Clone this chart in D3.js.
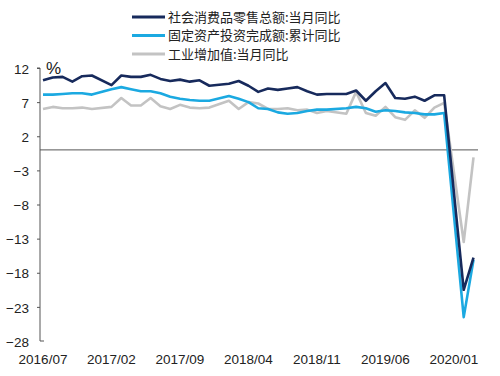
<!DOCTYPE html>
<html>
<head>
<meta charset="utf-8">
<script src="https://cdn.jsdelivr.net/npm/d3@7/dist/d3.min.js"></script>
<style>
  body { margin: 0; background: #fff; }
  svg { display: block; font-family: "Liberation Sans", Arial, "Noto Sans CJK SC", sans-serif; }
</style>
</head>
<body>
<div id="chart"></div>
<script>
// 月份：2016/07 – 2020/03，1 月无单独数据（与 2 月合并），用 null
const months = [];
for (let y = 2016, m = 7; y < 2020 || m <= 3; ) {
  months.push(`${y}/${String(m).padStart(2, '0')}`);
  m++; if (m > 12) { m = 1; y++; }
}

// 社会消费品零售总额:当月同比
const retail = [
  10.2, 10.6, 10.7, 10.0, 10.8, 10.9,
  null, 9.5, 10.9, 10.7, 10.7, 11.0, 10.4, 10.1, 10.3, 10.0, 10.2, 9.4,
  null, 9.7, 10.1, 9.4, 8.5, 9.0, 8.8, 9.0, 9.2, 8.6, 8.1, 8.2,
  null, 8.2, 8.7, 7.2, 8.6, 9.8, 7.6, 7.5, 7.8, 7.2, 8.0, 8.0,
  null, -20.5, -15.8
];
// 固定资产投资完成额:累计同比
const fai = [
  8.1, 8.1, 8.2, 8.3, 8.3, 8.1,
  null, 8.9, 9.2, 8.9, 8.6, 8.6, 8.3, 7.8, 7.5, 7.3, 7.2, 7.2,
  null, 7.9, 7.5, 7.0, 6.1, 6.0, 5.5, 5.3, 5.4, 5.7, 5.9, 5.9,
  null, 6.1, 6.3, 6.1, 5.6, 5.8, 5.7, 5.5, 5.4, 5.2, 5.2, 5.4,
  null, -24.5, -16.1
];
// 工业增加值:当月同比
const industry = [
  6.0, 6.3, 6.1, 6.1, 6.2, 6.0,
  null, 6.3, 7.6, 6.5, 6.5, 7.6, 6.4, 6.0, 6.6, 6.2, 6.1, 6.2,
  null, 7.2, 6.0, 7.0, 6.8, 6.0, 6.0, 6.1, 5.8, 5.9, 5.4, 5.7,
  null, 5.3, 8.5, 5.4, 5.0, 6.3, 4.8, 4.4, 5.8, 4.7, 6.2, 6.9,
  null, -13.5, -1.1
];

const yTicks = [12, 7, 2, -3, -8, -13, -18, -23, -28];
const xLabels = ['2016/07', '2017/02', '2017/09', '2018/04', '2018/11', '2019/06', '2020/01'];

const series = [
  { name: '工业增加值:当月同比', values: industry, color: '#c3c3c3' },
  { name: '固定资产投资完成额:累计同比', values: fai, color: '#1ba9e1' },
  { name: '社会消费品零售总额:当月同比', values: retail, color: '#172a5c' }
];
const legendOrder = [series[2], series[1], series[0]];

const W = 500, H = 376;
const svg = d3.select('#chart').append('svg').attr('width', W).attr('height', H);

const x = d3.scaleLinear().domain([0, months.length - 1]).range([43, 473.5]);
const y = d3.scaleLinear().domain([-28, 12]).range([341, 68]);
const axisX = 40;

// y 轴
const yAxis = svg.append('g').attr('transform', `translate(${axisX},0)`)
  .call(d3.axisLeft(y).tickValues(yTicks).tickSize(3).tickFormat(d3.format('d')));
yAxis.select('.domain').attr('stroke', '#555').attr('d', `M-3,${y(12)}H0V${y(-28)}H4`);
yAxis.selectAll('.tick line').attr('stroke', '#555');
yAxis.selectAll('.tick').filter(d => d === -28).select('line').attr('x2', 0);
yAxis.selectAll('.tick text').attr('x', -11).attr('dy', '0.38em')
  .attr('font-size', 13.5).attr('fill', '#222').attr('font-family', '"Liberation Sans", Arial, sans-serif');

// 零线
svg.append('line').attr('x1', axisX).attr('x2', 478).attr('y1', y(0)).attr('y2', y(0))
  .attr('stroke', '#555').attr('stroke-width', 1);

// x 轴标签
svg.append('g').selectAll('text').data(xLabels).join('text')
  .attr('x', d => x(months.indexOf(d))).attr('y', 364)
  .attr('text-anchor', 'middle').attr('font-size', 13.5).attr('fill', '#222')
  .text(d => d);

svg.append('text').attr('x', 46).attr('y', 74).attr('font-size', 17).attr('fill', '#222').text('%');

// 折线 — 1 月空值直接跨过
const line = d3.line().x(d => x(d.i)).y(d => y(d.v));
series.forEach(s => {
  const pts = s.values.map((v, i) => ({ i, v })).filter(p => p.v !== null);
  svg.append('path').attr('d', line(pts)).attr('fill', 'none')
    .attr('stroke', s.color).attr('stroke-width', 2.6).attr('stroke-linejoin', 'round');
});

// 图例
const lg = svg.append('g').attr('transform', 'translate(132,17)');
legendOrder.forEach((s, k) => {
  const g = lg.append('g').attr('transform', `translate(0,${k * 18.5})`);
  g.append('line').attr('x1', 0).attr('x2', 33).attr('stroke', s.color).attr('stroke-width', 2.8);
  g.append('text').attr('x', 36).attr('dy', '0.36em').attr('font-size', 13)
    .attr('font-family', '"Noto Sans CJK SC", sans-serif').attr('fill', '#222').text(s.name);
});
</script>
</body>
</html>
